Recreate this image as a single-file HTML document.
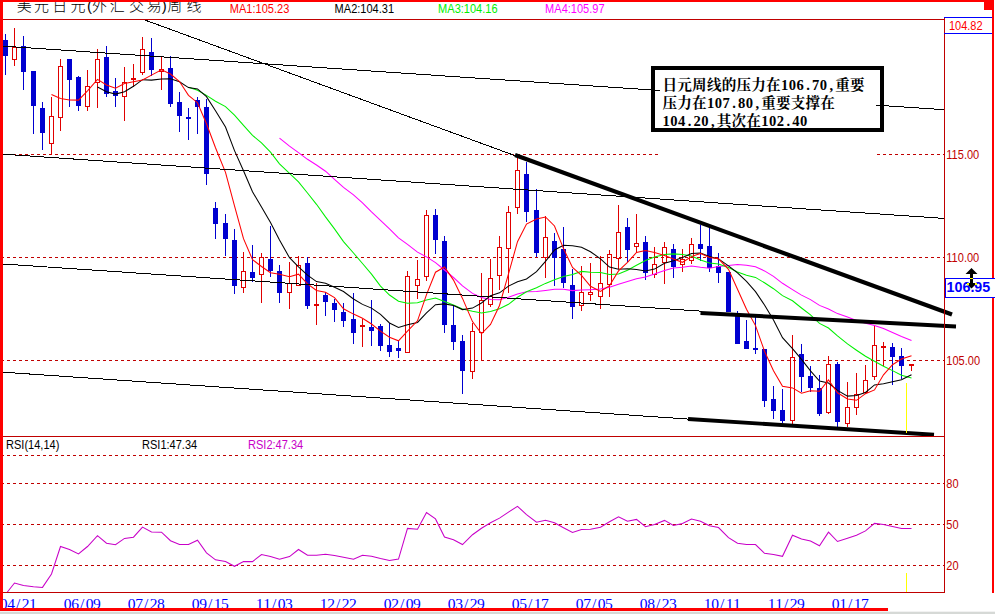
<!DOCTYPE html>
<html><head><meta charset="utf-8"><title>USDJPY weekly</title>
<style>html,body{margin:0;padding:0;background:#fff;overflow:hidden}body{width:995px;height:614px;position:relative}</style></head>
<body>
<svg width="995" height="614" viewBox="0 0 995 614" style="position:absolute;left:0;top:0;display:block">
<rect x="0" y="0" width="995" height="614" fill="#fff"/>
<g shape-rendering="crispEdges" stroke="#c00000" stroke-width="1" stroke-dasharray="3 3" stroke-dashoffset="2" fill="none">
<line x1="3" y1="154.5" x2="944" y2="154.5"/>
<line x1="3" y1="257.5" x2="944" y2="257.5"/>
<line x1="3" y1="360.5" x2="944" y2="360.5"/>
<line x1="3" y1="455.5" x2="944" y2="455.5"/>
<line x1="3" y1="483.5" x2="944" y2="483.5"/>
<line x1="3" y1="524.5" x2="944" y2="524.5"/>
<line x1="3" y1="565.5" x2="944" y2="565.5"/>
</g>
<g shape-rendering="crispEdges">
<rect x="5" y="34" width="1" height="41" fill="#0000d0"/>
<rect x="3" y="40" width="5" height="16" fill="#0000d0"/>
<rect x="14" y="28" width="1" height="19" fill="#e00000"/>
<rect x="14" y="60" width="1" height="6" fill="#e00000"/>
<rect x="12.5" y="47.5" width="4" height="12" fill="none" stroke="#e00000" stroke-width="1"/>
<rect x="23" y="36" width="1" height="54" fill="#0000d0"/>
<rect x="21" y="46" width="5" height="26" fill="#0000d0"/>
<rect x="33" y="71" width="1" height="63" fill="#0000d0"/>
<rect x="31" y="71" width="5" height="35" fill="#0000d0"/>
<rect x="42" y="102" width="1" height="48" fill="#0000d0"/>
<rect x="40" y="108" width="5" height="25" fill="#0000d0"/>
<rect x="51" y="97" width="1" height="19" fill="#e00000"/>
<rect x="51" y="144" width="1" height="11" fill="#e00000"/>
<rect x="49.5" y="116.5" width="4" height="27" fill="none" stroke="#e00000" stroke-width="1"/>
<rect x="60" y="59" width="1" height="7" fill="#e00000"/>
<rect x="60" y="118" width="1" height="13" fill="#e00000"/>
<rect x="58.5" y="66.5" width="4" height="51" fill="none" stroke="#e00000" stroke-width="1"/>
<rect x="69" y="59" width="1" height="48" fill="#0000d0"/>
<rect x="67" y="59" width="5" height="21" fill="#0000d0"/>
<rect x="78" y="76" width="1" height="35" fill="#0000d0"/>
<rect x="76" y="77" width="5" height="29" fill="#0000d0"/>
<rect x="87" y="70" width="1" height="16" fill="#e00000"/>
<rect x="87" y="107" width="1" height="4" fill="#e00000"/>
<rect x="85.5" y="86.5" width="4" height="20" fill="none" stroke="#e00000" stroke-width="1"/>
<rect x="97" y="49" width="1" height="10" fill="#e00000"/>
<rect x="97" y="83" width="1" height="25" fill="#e00000"/>
<rect x="95.5" y="59.5" width="4" height="23" fill="none" stroke="#e00000" stroke-width="1"/>
<rect x="106" y="46" width="1" height="51" fill="#0000d0"/>
<rect x="104" y="57" width="5" height="37" fill="#0000d0"/>
<rect x="115" y="78" width="1" height="29" fill="#0000d0"/>
<rect x="113" y="91" width="5" height="5" fill="#0000d0"/>
<rect x="124" y="67" width="1" height="15" fill="#e00000"/>
<rect x="124" y="97" width="1" height="24" fill="#e00000"/>
<rect x="122.5" y="82.5" width="4" height="14" fill="none" stroke="#e00000" stroke-width="1"/>
<rect x="133" y="64" width="1" height="14" fill="#e00000"/>
<rect x="133" y="80" width="1" height="7" fill="#e00000"/>
<rect x="131" y="78" width="5" height="2" fill="#e00000"/>
<rect x="142" y="37" width="1" height="12" fill="#e00000"/>
<rect x="142" y="73" width="1" height="2" fill="#e00000"/>
<rect x="140.5" y="49.5" width="4" height="23" fill="none" stroke="#e00000" stroke-width="1"/>
<rect x="151" y="38" width="1" height="38" fill="#0000d0"/>
<rect x="149" y="52" width="5" height="18" fill="#0000d0"/>
<rect x="161" y="57" width="1" height="12" fill="#e00000"/>
<rect x="161" y="72" width="1" height="18" fill="#e00000"/>
<rect x="159.5" y="69.5" width="4" height="2" fill="none" stroke="#e00000" stroke-width="1"/>
<rect x="170" y="56" width="1" height="51" fill="#0000d0"/>
<rect x="168" y="68" width="5" height="36" fill="#0000d0"/>
<rect x="179" y="92" width="1" height="40" fill="#0000d0"/>
<rect x="177" y="102" width="5" height="14" fill="#0000d0"/>
<rect x="188" y="108" width="1" height="32" fill="#0000d0"/>
<rect x="186" y="117" width="5" height="2" fill="#0000d0"/>
<rect x="197" y="97" width="1" height="37" fill="#0000d0"/>
<rect x="195" y="100" width="5" height="7" fill="#0000d0"/>
<rect x="206" y="99" width="1" height="86" fill="#0000d0"/>
<rect x="204" y="107" width="5" height="67" fill="#0000d0"/>
<rect x="215" y="202" width="1" height="37" fill="#0000d0"/>
<rect x="213" y="208" width="5" height="16" fill="#0000d0"/>
<rect x="225" y="214" width="1" height="42" fill="#0000d0"/>
<rect x="223" y="223" width="5" height="16" fill="#0000d0"/>
<rect x="234" y="229" width="1" height="65" fill="#0000d0"/>
<rect x="232" y="240" width="5" height="46" fill="#0000d0"/>
<rect x="243" y="252" width="1" height="19" fill="#e00000"/>
<rect x="243" y="288" width="1" height="5" fill="#e00000"/>
<rect x="241.5" y="271.5" width="4" height="16" fill="none" stroke="#e00000" stroke-width="1"/>
<rect x="252" y="245" width="1" height="37" fill="#0000d0"/>
<rect x="250" y="272" width="5" height="6" fill="#0000d0"/>
<rect x="261" y="253" width="1" height="4" fill="#e00000"/>
<rect x="261" y="275" width="1" height="28" fill="#e00000"/>
<rect x="259.5" y="257.5" width="4" height="17" fill="none" stroke="#e00000" stroke-width="1"/>
<rect x="270" y="226" width="1" height="51" fill="#0000d0"/>
<rect x="268" y="259" width="5" height="12" fill="#0000d0"/>
<rect x="279" y="265" width="1" height="38" fill="#0000d0"/>
<rect x="277" y="271" width="5" height="22" fill="#0000d0"/>
<rect x="289" y="262" width="1" height="21" fill="#e00000"/>
<rect x="289" y="293" width="1" height="16" fill="#e00000"/>
<rect x="287.5" y="283.5" width="4" height="9" fill="none" stroke="#e00000" stroke-width="1"/>
<rect x="298" y="256" width="1" height="9" fill="#e00000"/>
<rect x="296.5" y="265.5" width="4" height="20" fill="none" stroke="#e00000" stroke-width="1"/>
<rect x="307" y="257" width="1" height="52" fill="#0000d0"/>
<rect x="305" y="263" width="5" height="43" fill="#0000d0"/>
<rect x="316" y="283" width="1" height="21" fill="#e00000"/>
<rect x="316" y="306" width="1" height="19" fill="#e00000"/>
<rect x="314" y="304" width="5" height="2" fill="#e00000"/>
<rect x="325" y="292" width="1" height="24" fill="#0000d0"/>
<rect x="323" y="295" width="5" height="7" fill="#0000d0"/>
<rect x="334" y="299" width="1" height="23" fill="#0000d0"/>
<rect x="332" y="303" width="5" height="7" fill="#0000d0"/>
<rect x="343" y="303" width="1" height="24" fill="#0000d0"/>
<rect x="341" y="312" width="5" height="9" fill="#0000d0"/>
<rect x="353" y="293" width="1" height="51" fill="#0000d0"/>
<rect x="351" y="319" width="5" height="14" fill="#0000d0"/>
<rect x="362" y="319" width="1" height="6" fill="#e00000"/>
<rect x="362" y="327" width="1" height="20" fill="#e00000"/>
<rect x="360" y="325" width="5" height="2" fill="#e00000"/>
<rect x="371" y="300" width="1" height="46" fill="#0000d0"/>
<rect x="369" y="327" width="5" height="4" fill="#0000d0"/>
<rect x="380" y="324" width="1" height="27" fill="#0000d0"/>
<rect x="378" y="326" width="5" height="20" fill="#0000d0"/>
<rect x="389" y="323" width="1" height="34" fill="#0000d0"/>
<rect x="387" y="345" width="5" height="7" fill="#0000d0"/>
<rect x="398" y="341" width="1" height="17" fill="#0000d0"/>
<rect x="396" y="348" width="5" height="3" fill="#0000d0"/>
<rect x="407" y="271" width="1" height="5" fill="#e00000"/>
<rect x="405.5" y="276.5" width="4" height="76" fill="none" stroke="#e00000" stroke-width="1"/>
<rect x="417" y="260" width="1" height="19" fill="#e00000"/>
<rect x="417" y="286" width="1" height="13" fill="#e00000"/>
<rect x="415.5" y="279.5" width="4" height="6" fill="none" stroke="#e00000" stroke-width="1"/>
<rect x="426" y="210" width="1" height="5" fill="#e00000"/>
<rect x="426" y="277" width="1" height="4" fill="#e00000"/>
<rect x="424.5" y="215.5" width="4" height="61" fill="none" stroke="#e00000" stroke-width="1"/>
<rect x="435" y="209" width="1" height="45" fill="#0000d0"/>
<rect x="433" y="215" width="5" height="25" fill="#0000d0"/>
<rect x="444" y="236" width="1" height="97" fill="#0000d0"/>
<rect x="442" y="241" width="5" height="84" fill="#0000d0"/>
<rect x="453" y="306" width="1" height="44" fill="#0000d0"/>
<rect x="451" y="325" width="5" height="17" fill="#0000d0"/>
<rect x="462" y="335" width="1" height="59" fill="#0000d0"/>
<rect x="460" y="341" width="5" height="30" fill="#0000d0"/>
<rect x="472" y="323" width="1" height="8" fill="#e00000"/>
<rect x="472" y="372" width="1" height="7" fill="#e00000"/>
<rect x="470.5" y="331.5" width="4" height="40" fill="none" stroke="#e00000" stroke-width="1"/>
<rect x="481" y="273" width="1" height="27" fill="#e00000"/>
<rect x="481" y="333" width="1" height="28" fill="#e00000"/>
<rect x="479.5" y="300.5" width="4" height="32" fill="none" stroke="#e00000" stroke-width="1"/>
<rect x="490" y="259" width="1" height="19" fill="#e00000"/>
<rect x="490" y="305" width="1" height="2" fill="#e00000"/>
<rect x="488.5" y="278.5" width="4" height="26" fill="none" stroke="#e00000" stroke-width="1"/>
<rect x="499" y="236" width="1" height="11" fill="#e00000"/>
<rect x="499" y="276" width="1" height="14" fill="#e00000"/>
<rect x="497.5" y="247.5" width="4" height="28" fill="none" stroke="#e00000" stroke-width="1"/>
<rect x="508" y="206" width="1" height="6" fill="#e00000"/>
<rect x="508" y="249" width="1" height="44" fill="#e00000"/>
<rect x="506.5" y="212.5" width="4" height="36" fill="none" stroke="#e00000" stroke-width="1"/>
<rect x="517" y="158" width="1" height="12" fill="#e00000"/>
<rect x="517" y="208" width="1" height="6" fill="#e00000"/>
<rect x="515.5" y="170.5" width="4" height="37" fill="none" stroke="#e00000" stroke-width="1"/>
<rect x="526" y="162" width="1" height="60" fill="#0000d0"/>
<rect x="524" y="174" width="5" height="38" fill="#0000d0"/>
<rect x="536" y="189" width="1" height="68" fill="#0000d0"/>
<rect x="534" y="210" width="5" height="43" fill="#0000d0"/>
<rect x="545" y="216" width="1" height="21" fill="#e00000"/>
<rect x="545" y="258" width="1" height="20" fill="#e00000"/>
<rect x="543.5" y="237.5" width="4" height="20" fill="none" stroke="#e00000" stroke-width="1"/>
<rect x="554" y="233" width="1" height="53" fill="#0000d0"/>
<rect x="552" y="241" width="5" height="17" fill="#0000d0"/>
<rect x="563" y="227" width="1" height="61" fill="#0000d0"/>
<rect x="561" y="249" width="5" height="34" fill="#0000d0"/>
<rect x="572" y="269" width="1" height="50" fill="#0000d0"/>
<rect x="570" y="285" width="5" height="22" fill="#0000d0"/>
<rect x="581" y="266" width="1" height="26" fill="#e00000"/>
<rect x="581" y="306" width="1" height="5" fill="#e00000"/>
<rect x="579.5" y="292.5" width="4" height="13" fill="none" stroke="#e00000" stroke-width="1"/>
<rect x="590" y="263" width="1" height="29" fill="#e00000"/>
<rect x="590" y="295" width="1" height="6" fill="#e00000"/>
<rect x="588.5" y="292.5" width="4" height="2" fill="none" stroke="#e00000" stroke-width="1"/>
<rect x="600" y="256" width="1" height="27" fill="#e00000"/>
<rect x="600" y="297" width="1" height="12" fill="#e00000"/>
<rect x="598.5" y="283.5" width="4" height="13" fill="none" stroke="#e00000" stroke-width="1"/>
<rect x="609" y="250" width="1" height="4" fill="#e00000"/>
<rect x="609" y="285" width="1" height="12" fill="#e00000"/>
<rect x="607.5" y="254.5" width="4" height="30" fill="none" stroke="#e00000" stroke-width="1"/>
<rect x="618" y="205" width="1" height="27" fill="#e00000"/>
<rect x="618" y="259" width="1" height="10" fill="#e00000"/>
<rect x="616.5" y="232.5" width="4" height="26" fill="none" stroke="#e00000" stroke-width="1"/>
<rect x="627" y="218" width="1" height="44" fill="#0000d0"/>
<rect x="625" y="227" width="5" height="23" fill="#0000d0"/>
<rect x="636" y="214" width="1" height="29" fill="#e00000"/>
<rect x="636" y="247" width="1" height="6" fill="#e00000"/>
<rect x="634.5" y="243.5" width="4" height="3" fill="none" stroke="#e00000" stroke-width="1"/>
<rect x="645" y="236" width="1" height="44" fill="#0000d0"/>
<rect x="643" y="242" width="5" height="31" fill="#0000d0"/>
<rect x="654" y="247" width="1" height="17" fill="#e00000"/>
<rect x="654" y="275" width="1" height="3" fill="#e00000"/>
<rect x="652.5" y="264.5" width="4" height="10" fill="none" stroke="#e00000" stroke-width="1"/>
<rect x="664" y="242" width="1" height="5" fill="#e00000"/>
<rect x="664" y="263" width="1" height="21" fill="#e00000"/>
<rect x="662.5" y="247.5" width="4" height="15" fill="none" stroke="#e00000" stroke-width="1"/>
<rect x="673" y="244" width="1" height="34" fill="#0000d0"/>
<rect x="671" y="249" width="5" height="18" fill="#0000d0"/>
<rect x="682" y="249" width="1" height="10" fill="#e00000"/>
<rect x="682" y="265" width="1" height="7" fill="#e00000"/>
<rect x="680.5" y="259.5" width="4" height="5" fill="none" stroke="#e00000" stroke-width="1"/>
<rect x="691" y="238" width="1" height="6" fill="#e00000"/>
<rect x="691" y="261" width="1" height="3" fill="#e00000"/>
<rect x="689.5" y="244.5" width="4" height="16" fill="none" stroke="#e00000" stroke-width="1"/>
<rect x="700" y="225" width="1" height="36" fill="#0000d0"/>
<rect x="698" y="244" width="5" height="5" fill="#0000d0"/>
<rect x="709" y="228" width="1" height="44" fill="#0000d0"/>
<rect x="707" y="246" width="5" height="22" fill="#0000d0"/>
<rect x="718" y="253" width="1" height="30" fill="#0000d0"/>
<rect x="716" y="266" width="5" height="7" fill="#0000d0"/>
<rect x="728" y="272" width="1" height="40" fill="#0000d0"/>
<rect x="726" y="272" width="5" height="40" fill="#0000d0"/>
<rect x="737" y="311" width="1" height="33" fill="#0000d0"/>
<rect x="735" y="315" width="5" height="29" fill="#0000d0"/>
<rect x="746" y="320" width="1" height="29" fill="#0000d0"/>
<rect x="744" y="341" width="5" height="8" fill="#0000d0"/>
<rect x="755" y="314" width="1" height="40" fill="#0000d0"/>
<rect x="753" y="348" width="5" height="2" fill="#0000d0"/>
<rect x="764" y="349" width="1" height="58" fill="#0000d0"/>
<rect x="762" y="349" width="5" height="52" fill="#0000d0"/>
<rect x="773" y="386" width="1" height="33" fill="#0000d0"/>
<rect x="771" y="399" width="5" height="12" fill="#0000d0"/>
<rect x="782" y="389" width="1" height="34" fill="#0000d0"/>
<rect x="780" y="410" width="5" height="11" fill="#0000d0"/>
<rect x="792" y="335" width="1" height="22" fill="#e00000"/>
<rect x="792" y="421" width="1" height="3" fill="#e00000"/>
<rect x="790.5" y="357.5" width="4" height="63" fill="none" stroke="#e00000" stroke-width="1"/>
<rect x="801" y="344" width="1" height="48" fill="#0000d0"/>
<rect x="799" y="354" width="5" height="23" fill="#0000d0"/>
<rect x="810" y="366" width="1" height="26" fill="#0000d0"/>
<rect x="808" y="376" width="5" height="12" fill="#0000d0"/>
<rect x="819" y="375" width="1" height="41" fill="#0000d0"/>
<rect x="817" y="388" width="5" height="26" fill="#0000d0"/>
<rect x="828" y="356" width="1" height="8" fill="#e00000"/>
<rect x="828" y="413" width="1" height="1" fill="#e00000"/>
<rect x="826.5" y="364.5" width="4" height="48" fill="none" stroke="#e00000" stroke-width="1"/>
<rect x="837" y="362" width="1" height="66" fill="#0000d0"/>
<rect x="835" y="364" width="5" height="58" fill="#0000d0"/>
<rect x="847" y="382" width="1" height="25" fill="#e00000"/>
<rect x="847" y="424" width="1" height="3" fill="#e00000"/>
<rect x="845.5" y="407.5" width="4" height="16" fill="none" stroke="#e00000" stroke-width="1"/>
<rect x="856" y="373" width="1" height="21" fill="#e00000"/>
<rect x="856" y="408" width="1" height="7" fill="#e00000"/>
<rect x="854.5" y="394.5" width="4" height="13" fill="none" stroke="#e00000" stroke-width="1"/>
<rect x="865" y="365" width="1" height="15" fill="#e00000"/>
<rect x="865" y="393" width="1" height="1" fill="#e00000"/>
<rect x="863.5" y="380.5" width="4" height="12" fill="none" stroke="#e00000" stroke-width="1"/>
<rect x="874" y="325" width="1" height="20" fill="#e00000"/>
<rect x="874" y="377" width="1" height="3" fill="#e00000"/>
<rect x="872.5" y="345.5" width="4" height="31" fill="none" stroke="#e00000" stroke-width="1"/>
<rect x="883" y="342" width="1" height="4" fill="#e00000"/>
<rect x="883" y="348" width="1" height="18" fill="#e00000"/>
<rect x="881" y="346" width="5" height="2" fill="#e00000"/>
<rect x="892" y="343" width="1" height="42" fill="#0000d0"/>
<rect x="890" y="347" width="5" height="10" fill="#0000d0"/>
<rect x="901" y="348" width="1" height="31" fill="#0000d0"/>
<rect x="899" y="356" width="5" height="10" fill="#0000d0"/>
<rect x="911" y="366" width="1" height="5" fill="#e00000"/>
<rect x="909" y="364" width="5" height="2" fill="#e00000"/>
</g>
<g>
<polyline points="279.5,138.2 289.5,146.1 298.5,152.6 307.5,159.3 316.5,165.0 325.5,171.2 334.5,179.3 343.5,187.4 353.5,194.9 362.5,202.9 371.5,211.9 380.5,220.3 389.5,228.9 398.5,237.8 407.5,244.4 417.5,252.1 426.5,256.9 435.5,262.6 444.5,270.0 453.5,277.5 462.5,285.9 472.5,293.4 481.5,297.6 490.5,299.5 499.5,299.7 508.5,297.3 517.5,293.9 526.5,291.7 536.5,291.5 545.5,290.4 554.5,289.2 563.5,289.2 572.5,290.6 581.5,290.1 590.5,289.7 600.5,289.1 609.5,287.2 618.5,284.3 627.5,281.5 636.5,278.8 645.5,276.9 654.5,274.1 664.5,270.6 673.5,267.9 682.5,267.3 691.5,266.1 700.5,267.3 709.5,268.2 718.5,266.5 728.5,265.5 737.5,264.6 746.5,265.2 755.5,266.8 764.5,270.9 773.5,276.4 782.5,283.3 792.5,289.6 801.5,295.1 810.5,299.6 819.5,305.4 828.5,309.0 837.5,313.6 847.5,317.0 856.5,320.4 865.5,323.3 874.5,325.4 883.5,328.5 892.5,332.6 901.5,336.5 911.5,340.5" fill="none" stroke="#ff00ff" stroke-width="1.05" />
<polyline points="188.5,87.3 197.5,90.3 206.5,95.4 215.5,101.3 225.5,106.6 234.5,115.1 243.5,125.4 252.5,135.3 261.5,142.9 270.5,152.1 279.5,163.8 289.5,173.3 298.5,181.8 307.5,193.0 316.5,204.3 325.5,216.9 334.5,228.9 343.5,241.6 353.5,253.0 362.5,263.5 371.5,274.1 380.5,286.1 389.5,295.0 398.5,301.3 407.5,303.2 417.5,302.8 426.5,300.0 435.5,298.1 444.5,301.4 453.5,305.0 462.5,308.9 472.5,311.2 481.5,313.0 490.5,311.6 499.5,308.8 508.5,304.3 517.5,297.3 526.5,291.8 536.5,287.8 545.5,283.4 554.5,279.8 563.5,276.6 572.5,274.4 581.5,271.4 590.5,272.2 600.5,272.4 609.5,274.4 618.5,274.1 627.5,270.3 636.5,265.3 645.5,260.5 654.5,257.1 664.5,254.5 673.5,253.9 682.5,254.5 691.5,256.1 700.5,260.1 709.5,262.9 718.5,263.9 728.5,267.6 737.5,271.9 746.5,275.2 755.5,277.4 764.5,282.8 773.5,288.7 782.5,295.6 792.5,300.8 801.5,308.0 810.5,314.9 819.5,323.4 828.5,328.0 837.5,335.8 847.5,343.9 856.5,350.2 865.5,356.3 874.5,361.3 883.5,366.2 892.5,370.6 901.5,375.3 911.5,377.9" fill="none" stroke="#00f000" stroke-width="1.05" />
<polyline points="97.5,87.0 106.5,91.7 115.5,94.1 124.5,91.8 133.5,86.3 142.5,79.7 151.5,80.1 161.5,79.0 170.5,78.7 179.5,81.7 188.5,87.6 197.5,88.9 206.5,96.7 215.5,110.8 225.5,127.0 234.5,150.6 243.5,170.7 252.5,191.7 261.5,207.1 270.5,222.6 279.5,240.1 289.5,257.7 298.5,266.9 307.5,275.2 316.5,281.6 325.5,283.3 334.5,287.2 343.5,291.5 353.5,299.0 362.5,304.4 371.5,308.1 380.5,314.4 389.5,323.0 398.5,327.5 407.5,324.7 417.5,322.4 426.5,312.9 435.5,304.7 444.5,303.9 453.5,305.6 462.5,309.6 472.5,308.1 481.5,303.0 490.5,295.7 499.5,292.8 508.5,286.1 517.5,281.7 526.5,278.9 536.5,271.7 545.5,261.3 554.5,250.0 563.5,245.2 572.5,245.8 581.5,247.2 590.5,251.7 600.5,258.8 609.5,267.1 618.5,269.2 627.5,268.8 636.5,269.4 645.5,271.0 654.5,269.1 664.5,263.2 673.5,260.7 682.5,257.4 691.5,253.6 700.5,253.0 709.5,256.5 718.5,258.9 728.5,265.8 737.5,272.9 746.5,281.3 755.5,291.6 764.5,305.0 773.5,320.1 782.5,337.7 792.5,348.6 801.5,359.4 810.5,370.9 819.5,381.0 828.5,383.1 837.5,390.4 847.5,396.1 856.5,395.5 865.5,392.5 874.5,384.9 883.5,383.8 892.5,381.8 901.5,379.7 911.5,374.8" fill="none" stroke="#000000" stroke-width="1.05" />
<polyline points="51.5,94.6 60.5,98.4 69.5,100.0 78.5,100.1 87.5,90.8 97.5,79.4 106.5,85.0 115.5,88.2 124.5,83.5 133.5,81.8 142.5,79.9 151.5,75.1 161.5,69.8 170.5,74.0 179.5,81.5 188.5,95.3 197.5,102.7 206.5,123.7 215.5,147.7 225.5,172.4 234.5,205.8 243.5,238.7 252.5,259.6 261.5,266.5 270.5,272.8 279.5,274.3 289.5,276.7 298.5,274.2 307.5,283.8 316.5,290.5 325.5,292.3 334.5,297.6 343.5,308.8 353.5,314.1 362.5,318.3 371.5,324.0 380.5,331.1 389.5,337.2 398.5,340.8 407.5,331.1 417.5,320.8 426.5,294.6 435.5,272.2 444.5,267.0 453.5,280.1 462.5,298.4 472.5,321.6 481.5,333.8 490.5,324.4 499.5,305.5 508.5,273.9 517.5,241.7 526.5,224.1 536.5,219.0 545.5,217.0 554.5,226.0 563.5,248.6 572.5,267.5 581.5,275.3 590.5,286.3 600.5,291.5 609.5,285.7 618.5,270.9 627.5,262.4 636.5,252.5 645.5,250.5 654.5,252.5 664.5,255.5 673.5,259.0 682.5,262.3 691.5,256.6 700.5,253.4 709.5,257.6 718.5,258.8 728.5,269.3 737.5,289.2 746.5,309.3 755.5,325.6 764.5,351.2 773.5,370.8 782.5,386.2 792.5,387.9 801.5,393.3 810.5,390.7 819.5,391.3 828.5,380.0 837.5,392.8 847.5,399.0 856.5,400.3 865.5,393.7 874.5,389.9 883.5,374.8 892.5,364.7 901.5,359.0 911.5,355.8" fill="none" stroke="#ff0000" stroke-width="1.05" />
</g>
<g shape-rendering="crispEdges" stroke="#000" stroke-width="1" fill="none">
<line x1="3" y1="46.1" x2="944" y2="109.7"/>
<line x1="143.5" y1="19.5" x2="516" y2="156"/>
<line x1="3" y1="154.2" x2="944" y2="218.4"/>
<line x1="3" y1="264" x2="702" y2="311.2"/>
<line x1="3" y1="372.2" x2="690" y2="419.2"/>
</g>
<g stroke="#000" fill="none" stroke-linecap="butt">
<line x1="515" y1="155" x2="952" y2="314.5" stroke-width="4.2"/>
<line x1="700.5" y1="312.9" x2="956" y2="326.6" stroke-width="4"/>
<line x1="688" y1="419.0" x2="934" y2="434.7" stroke-width="3.9"/>
</g>
<g shape-rendering="crispEdges" fill="#ffff00">
<rect x="906" y="383" width="1" height="50"/>
<rect x="906" y="573" width="1" height="20"/>
</g>
<g><polyline points="7.0,592.5 14.5,583.0 23.5,585.4 33.5,586.7 42.5,587.4 51.5,574.0 60.5,546.5 69.5,549.5 78.5,554.0 87.5,546.5 97.5,535.7 106.5,543.2 115.5,544.7 124.5,538.4 133.5,537.2 142.5,527.1 151.5,531.9 161.5,532.2 170.5,540.7 179.5,544.5 188.5,544.5 197.5,540.2 206.5,552.8 215.5,559.8 225.5,561.6 234.5,566.3 243.5,561.6 252.5,561.6 261.5,554.6 270.5,556.6 279.5,559.3 289.5,556.6 298.5,549.5 307.5,555.3 316.5,555.3 325.5,554.3 334.5,555.6 343.5,557.3 353.5,559.3 362.5,555.3 371.5,556.3 380.5,558.6 389.5,560.4 398.5,559.1 407.5,528.4 417.5,529.2 426.5,512.6 435.5,518.9 444.5,537.0 453.5,539.7 462.5,544.5 472.5,534.7 481.5,528.2 490.5,522.7 499.5,518.1 508.5,512.1 517.5,506.3 526.5,514.6 536.5,522.2 545.5,520.2 554.5,522.7 563.5,527.7 572.5,532.5 581.5,529.4 590.5,529.2 600.5,527.2 609.5,521.7 618.5,516.9 627.5,521.2 636.5,519.4 645.5,526.7 654.5,524.4 664.5,520.4 673.5,525.4 682.5,523.4 691.5,519.1 700.5,521.2 709.5,525.7 718.5,527.6 728.5,537.7 737.5,543.2 746.5,544.5 755.5,544.5 764.5,553.3 773.5,554.5 782.5,556.3 792.5,535.2 801.5,538.9 810.5,541.0 819.5,545.7 828.5,532.2 837.5,541.5 847.5,538.2 856.5,535.2 865.5,530.9 874.5,523.4 883.5,524.4 892.5,526.4 901.5,528.4 911.5,528.4" fill="none" stroke="#c800c8" stroke-width="1.05" /></g>
<rect x="660" y="70" width="216" height="90" fill="#fff"/>
<rect x="653" y="68" width="229" height="62" fill="none" stroke="#000" stroke-width="4" shape-rendering="crispEdges"/>
<text x="16.8 34 52.2 70.5 87.1 92 109.7 129.1 146.8 161.7 167.2 186.4" y="11.3" fill="#000" font-size="15" font-weight="300" font-family="Liberation Sans, 'Noto Sans CJK SC', sans-serif">美元日元(外汇交易)周线</text>
<g fill="#00f" font-size="15.6" font-family="Liberation Serif, serif">
<text x="-0.20 7.13 15.96 21.79 29.12" y="609.2">04/21</text>
<text x="63.80 71.13 79.96 85.79 93.12" y="609.2">06/09</text>
<text x="127.80 135.13 143.96 149.79 157.12" y="609.2">07/28</text>
<text x="191.80 199.13 207.96 213.79 221.12" y="609.2">09/15</text>
<text x="255.80 263.13 271.96 277.79 285.12" y="609.2">11/03</text>
<text x="319.80 327.13 335.96 341.79 349.12" y="609.2">12/22</text>
<text x="383.80 391.13 399.96 405.79 413.12" y="609.2">02/09</text>
<text x="447.80 455.13 463.96 469.79 477.12" y="609.2">03/29</text>
<text x="511.80 519.13 527.96 533.79 541.12" y="609.2">05/17</text>
<text x="575.80 583.13 591.96 597.79 605.12" y="609.2">07/05</text>
<text x="639.80 647.13 655.96 661.79 669.12" y="609.2">08/23</text>
<text x="703.80 711.13 719.96 725.79 733.12" y="609.2">10/11</text>
<text x="767.80 775.13 783.96 789.79 797.12" y="609.2">11/29</text>
<text x="831.80 839.13 847.96 853.79 861.12" y="609.2">01/17</text>
</g>
<g shape-rendering="crispEdges">
<rect x="3" y="19" width="942" height="1" fill="#c00000"/>
<rect x="944" y="18" width="1" height="575" fill="#c00000"/>
<rect x="3" y="436" width="942" height="1" fill="#c00000"/>
<rect x="3" y="592" width="942" height="1" fill="#c00000"/>
<rect x="0" y="0" width="3" height="611" fill="#f00"/>
<rect x="0" y="0" width="994" height="2" fill="#f00"/>
<rect x="992" y="0" width="2" height="593" fill="#f00"/>
<rect x="984" y="0" width="10" height="10" fill="#f00"/>
<rect x="0" y="608" width="888" height="3" fill="#f00"/>
<rect x="0" y="611" width="995" height="1" fill="#f2f2f2"/>
<rect x="0" y="612" width="995" height="2" fill="#d6d9d6"/>
<rect x="944" y="17" width="48" height="1" fill="#00f"/>
<rect x="944" y="33" width="48" height="1" fill="#00f"/>
<rect x="945.5" y="278.5" width="50" height="18.5" fill="#fff" stroke="#00f" stroke-width="1"/>
</g>
<text transform="translate(229.8,12.6) scale(0.92,1)" fill="#f00" font-size="12" font-family="Liberation Sans, Arial, sans-serif" >MA1:105.23</text>
<text transform="translate(334.6,12.6) scale(0.92,1)" fill="#000" font-size="12" font-family="Liberation Sans, Arial, sans-serif" >MA2:104.31</text>
<text transform="translate(438.1,12.6) scale(0.92,1)" fill="#00f000" font-size="12" font-family="Liberation Sans, Arial, sans-serif" >MA3:104.16</text>
<text transform="translate(545.1,12.6) scale(0.92,1)" fill="#ff00ff" font-size="12" font-family="Liberation Sans, Arial, sans-serif" >MA4:105.97</text>
<text transform="translate(948.9,29.9) scale(0.92,1)" fill="#f00" font-size="12" font-family="Liberation Sans, Arial, sans-serif" >104.82</text>
<text transform="translate(946.3,158.5) scale(0.92,1)" fill="#c00000" font-size="12" font-family="Liberation Sans, Arial, sans-serif" >115.00</text>
<text transform="translate(946.3,261.6) scale(0.92,1)" fill="#c00000" font-size="12" font-family="Liberation Sans, Arial, sans-serif" >110.00</text>
<text transform="translate(946.3,364.6) scale(0.92,1)" fill="#c00000" font-size="12" font-family="Liberation Sans, Arial, sans-serif" >105.00</text>
<text transform="translate(946.3,487.5) scale(0.92,1)" fill="#c00000" font-size="12" font-family="Liberation Sans, Arial, sans-serif" >80</text>
<text transform="translate(946.3,528.6) scale(0.92,1)" fill="#c00000" font-size="12" font-family="Liberation Sans, Arial, sans-serif" >50</text>
<text transform="translate(946.3,569.5) scale(0.92,1)" fill="#c00000" font-size="12" font-family="Liberation Sans, Arial, sans-serif" >20</text>
<text transform="translate(946.6,292.0) scale(1,1)" fill="#00f" font-size="14.2" font-family="Liberation Sans, Arial, sans-serif" font-weight="bold" textLength="43.6" lengthAdjust="spacingAndGlyphs">106.95</text>
<text transform="translate(6,449.3) scale(0.92,1)" fill="#000" font-size="12" font-family="Liberation Sans, Arial, sans-serif" >RSI(14,14)</text>
<text transform="translate(142,449.3) scale(0.92,1)" fill="#000" font-size="12" font-family="Liberation Sans, Arial, sans-serif" >RSI1:47.34</text>
<text transform="translate(248,449.3) scale(0.92,1)" fill="#c800c8" font-size="12" font-family="Liberation Sans, Arial, sans-serif" >RSI2:47.34</text>
<path d="M971.5 268 L977.5 274 L973 274 L973 283 L977 283 L971.5 288.5 L966 283 L970 283 L970 274 L965.5 274 Z" fill="#000"/>
<g fill="#ff0" shape-rendering="crispEdges"><rect x="970" y="278" width="3" height="1"/><rect x="967" y="283" width="2" height="2"/><rect x="975" y="283" width="2" height="2"/></g>
<g fill="#000" font-size="14.6" font-weight="bold" font-family="Liberation Serif, 'Noto Serif CJK SC', serif">
<text x="662.50 677.30 692.10 706.90 721.70 736.50 751.30 766.10 780.90 788.65 796.40 806.15 811.90 819.65 829.40 835.15 849.95" y="89.7">日元周线的压力在106.70,重要</text>
<text x="662.50 677.30 692.10 706.90 714.65 722.40 732.15 737.90 745.65 755.40 761.15 775.95 790.75 805.55 820.35" y="108.0">压力在107.80,重要支撑在</text>
<text x="662.50 670.25 678.00 687.75 693.50 701.25 711.00 716.75 731.55 746.35 761.15 768.90 776.65 786.40 792.15 799.90" y="126.3">104.20,其次在102.40</text>
</g>
</svg>
</body></html>
